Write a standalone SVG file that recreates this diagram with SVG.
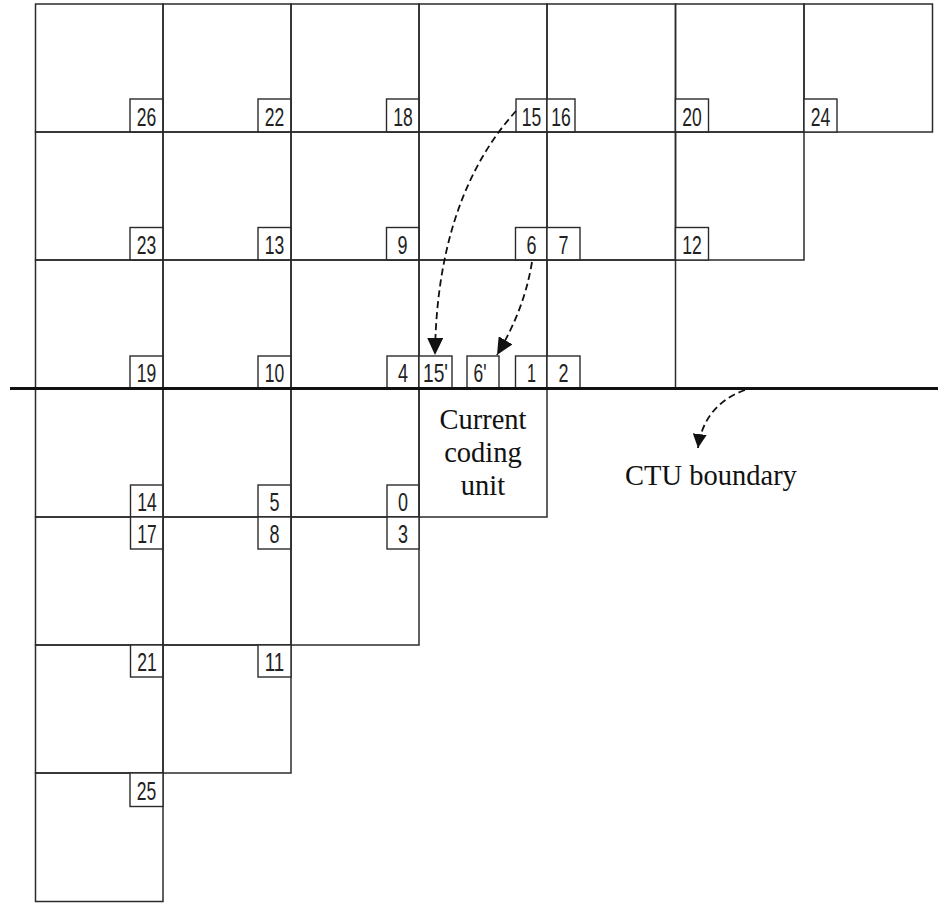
<svg xmlns="http://www.w3.org/2000/svg" width="938" height="903" viewBox="0 0 938 903">
<style>
.cell{fill:none;stroke:#2b2b2b;stroke-width:1.5}
.lb{fill:#fff;stroke:#2b2b2b;stroke-width:1.4}
.n{font-family:"Liberation Sans",Arial,sans-serif;font-size:26px;fill:#222;text-anchor:middle}
.t{font-family:"Liberation Serif","Times New Roman",serif;font-size:28.5px;fill:#111}
.ctu{stroke:#111;stroke-width:3;fill:none}
.arr{fill:none;stroke:#111;stroke-width:1.8;stroke-dasharray:7 4}
</style>
<defs>
<marker id="ah" markerUnits="userSpaceOnUse" markerWidth="18" markerHeight="16" refX="17" refY="8" orient="auto">
<path d="M0,0 L17,8 L0,16 z" fill="#111"/>
</marker>
<marker id="ahs" markerUnits="userSpaceOnUse" markerWidth="15" markerHeight="14" refX="14" refY="7" orient="auto">
<path d="M0,0 L14,7 L0,14 z" fill="#111"/>
</marker>
</defs>
<rect width="938" height="903" fill="#fff"/>

<!-- Row 0 -->
<g id="r0c0"><rect class="cell" x="35.5" y="4" width="127.5" height="128"/><rect class="lb" x="130" y="99" width="33" height="33"/><text class="n" x="146.5" y="125.5" textLength="19.5" lengthAdjust="spacingAndGlyphs">26</text></g>
<g id="r0c1"><rect class="cell" x="163" y="4" width="128" height="128"/><rect class="lb" x="258" y="99" width="33" height="33"/><text class="n" x="274.5" y="125.5" textLength="19.5" lengthAdjust="spacingAndGlyphs">22</text></g>
<g id="r0c2"><rect class="cell" x="291" y="4" width="128" height="128"/><rect class="lb" x="386.5" y="99" width="32.5" height="33"/><text class="n" x="403" y="125.5" textLength="19.5" lengthAdjust="spacingAndGlyphs">18</text></g>
<g id="r0c3"><rect class="cell" x="419" y="4" width="128" height="128"/><rect class="lb" x="516" y="99" width="31" height="33"/><text class="n" x="531.5" y="125.5" textLength="19.5" lengthAdjust="spacingAndGlyphs">15</text></g>
<g id="r0c4"><rect class="cell" x="547" y="4" width="128.5" height="128"/><rect class="lb" x="547" y="99" width="28" height="33"/><text class="n" x="561" y="125.5" textLength="19.5" lengthAdjust="spacingAndGlyphs">16</text></g>
<g id="r0c5"><rect class="cell" x="675.5" y="4" width="128.5" height="128"/><rect class="lb" x="675.5" y="99" width="33" height="33"/><text class="n" x="692" y="125.5" textLength="19.5" lengthAdjust="spacingAndGlyphs">20</text></g>
<g id="r0c6"><rect class="cell" x="804" y="4" width="128.5" height="128"/><rect class="lb" x="804" y="99" width="33" height="33"/><text class="n" x="820.5" y="125.5" textLength="19.5" lengthAdjust="spacingAndGlyphs">24</text></g>

<!-- Row 1 -->
<g id="r1c0"><rect class="cell" x="35.5" y="132" width="127.5" height="128"/><rect class="lb" x="130" y="227.5" width="33" height="32.5"/><text class="n" x="146.5" y="253.5" textLength="19.5" lengthAdjust="spacingAndGlyphs">23</text></g>
<g id="r1c1"><rect class="cell" x="163" y="132" width="128" height="128"/><rect class="lb" x="258" y="227.5" width="33" height="32.5"/><text class="n" x="274.5" y="253.5" textLength="19.5" lengthAdjust="spacingAndGlyphs">13</text></g>
<g id="r1c2"><rect class="cell" x="291" y="132" width="128" height="128"/><rect class="lb" x="386.5" y="227.5" width="32.5" height="32.5"/><text class="n" x="402.5" y="253.5" textLength="10" lengthAdjust="spacingAndGlyphs">9</text></g>
<g id="r1c3"><rect class="cell" x="419" y="132" width="128" height="128"/><rect class="lb" x="515.5" y="227.5" width="31.5" height="32.5"/><text class="n" x="531.5" y="253.5" textLength="10" lengthAdjust="spacingAndGlyphs">6</text></g>
<g id="r1c4"><rect class="cell" x="547" y="132" width="128.5" height="128"/><rect class="lb" x="547" y="227.5" width="33" height="32.5"/><text class="n" x="563.5" y="253.5" textLength="10" lengthAdjust="spacingAndGlyphs">7</text></g>
<g id="r1c5"><rect class="cell" x="675.5" y="132" width="128.5" height="128"/><rect class="lb" x="675.5" y="227.5" width="33" height="32.5"/><text class="n" x="692" y="253.5" textLength="19.5" lengthAdjust="spacingAndGlyphs">12</text></g>

<!-- Row 2 -->
<g id="r2c0"><rect class="cell" x="35.5" y="260" width="127.5" height="128.5"/><rect class="lb" x="130" y="356" width="33" height="32.5"/><text class="n" x="146.5" y="382" textLength="19.5" lengthAdjust="spacingAndGlyphs">19</text></g>
<g id="r2c1"><rect class="cell" x="163" y="260" width="128" height="128.5"/><rect class="lb" x="258" y="356" width="33" height="32.5"/><text class="n" x="274.5" y="382" textLength="19.5" lengthAdjust="spacingAndGlyphs">10</text></g>
<g id="r2c2"><rect class="cell" x="291" y="260" width="128" height="128.5"/><rect class="lb" x="387" y="356" width="32" height="32.5"/><text class="n" x="403" y="382" textLength="10" lengthAdjust="spacingAndGlyphs">4</text></g>
<g id="r2c3"><rect class="cell" x="419" y="260" width="128" height="128.5"/>
<rect class="lb" x="419" y="356" width="33" height="32.5"/><text class="n" x="435.5" y="382" textLength="25" lengthAdjust="spacingAndGlyphs">15'</text>
<rect class="lb" x="467" y="356" width="32" height="32.5"/><text class="n" x="480" y="382" textLength="13" lengthAdjust="spacingAndGlyphs">6'</text>
<rect class="lb" x="515.5" y="356" width="31.5" height="32.5"/><text class="n" x="531.5" y="382" textLength="9" lengthAdjust="spacingAndGlyphs">1</text></g>
<g id="r2c4"><rect class="cell" x="547" y="260" width="128.5" height="128.5"/><rect class="lb" x="547" y="356" width="33" height="32.5"/><text class="n" x="563.5" y="382" textLength="10" lengthAdjust="spacingAndGlyphs">2</text></g>

<!-- Row 3 -->
<g id="r3c0"><rect class="cell" x="35.5" y="388.5" width="127.5" height="128.5"/><rect class="lb" x="130.5" y="485" width="32.5" height="32"/><text class="n" x="147" y="510.5" textLength="19.5" lengthAdjust="spacingAndGlyphs">14</text></g>
<g id="r3c1"><rect class="cell" x="163" y="388.5" width="128" height="128.5"/><rect class="lb" x="258" y="485" width="33" height="32"/><text class="n" x="274.5" y="510.5" textLength="10" lengthAdjust="spacingAndGlyphs">5</text></g>
<g id="r3c2"><rect class="cell" x="291" y="388.5" width="128" height="128.5"/><rect class="lb" x="387" y="485" width="32" height="32"/><text class="n" x="403" y="510.5" textLength="10" lengthAdjust="spacingAndGlyphs">0</text></g>
<g id="current"><rect class="cell" x="419" y="388.5" width="128" height="128.5"/>
<text class="t" text-anchor="middle"><tspan x="483" y="429">Current</tspan><tspan x="483" y="462">coding</tspan><tspan x="483" y="495">unit</tspan></text></g>

<!-- Row 4 -->
<g id="r4c0"><rect class="cell" x="35.5" y="517" width="127.5" height="128"/><rect class="lb" x="130.5" y="517" width="32.5" height="32"/><text class="n" x="147" y="542.5" textLength="19.5" lengthAdjust="spacingAndGlyphs">17</text></g>
<g id="r4c1"><rect class="cell" x="163" y="517" width="128" height="128"/><rect class="lb" x="258" y="517" width="33" height="32"/><text class="n" x="274.5" y="542.5" textLength="10" lengthAdjust="spacingAndGlyphs">8</text></g>
<g id="r4c2"><rect class="cell" x="291" y="517" width="128" height="128"/><rect class="lb" x="387" y="517" width="32" height="32"/><text class="n" x="403" y="542.5" textLength="10" lengthAdjust="spacingAndGlyphs">3</text></g>

<!-- Row 5 -->
<g id="r5c0"><rect class="cell" x="35.5" y="645" width="127.5" height="128"/><rect class="lb" x="130.5" y="645" width="32.5" height="32"/><text class="n" x="147" y="670.5" textLength="19.5" lengthAdjust="spacingAndGlyphs">21</text></g>
<g id="r5c1"><rect class="cell" x="163" y="645" width="128" height="128"/><rect class="lb" x="258" y="645" width="33" height="32"/><text class="n" x="274.5" y="670.5" textLength="19.5" lengthAdjust="spacingAndGlyphs">11</text></g>

<!-- Row 6 -->
<g id="r6c0"><rect class="cell" x="35.5" y="773" width="127.5" height="128.5"/><rect class="lb" x="130" y="773" width="33" height="33.5"/><text class="n" x="146.5" y="799.5" textLength="19.5" lengthAdjust="spacingAndGlyphs">25</text></g>

<!-- CTU boundary -->
<g id="ctu-boundary"><line class="ctu" x1="10" y1="388.5" x2="938" y2="388.5"/>
<text class="t" x="711" y="485" text-anchor="middle">CTU boundary</text></g>

<!-- Connectors -->
<g id="connectors">
<path class="arr" d="M516,111 C458,175 436,262 435,355" marker-end="url(#ah)"/>
<path class="arr" d="M532,262 C526,298 514,326 497,355" marker-end="url(#ah)"/>
<path class="arr" d="M745,390 C722,398 702,416 698,448" marker-end="url(#ahs)"/>
</g>
</svg>
